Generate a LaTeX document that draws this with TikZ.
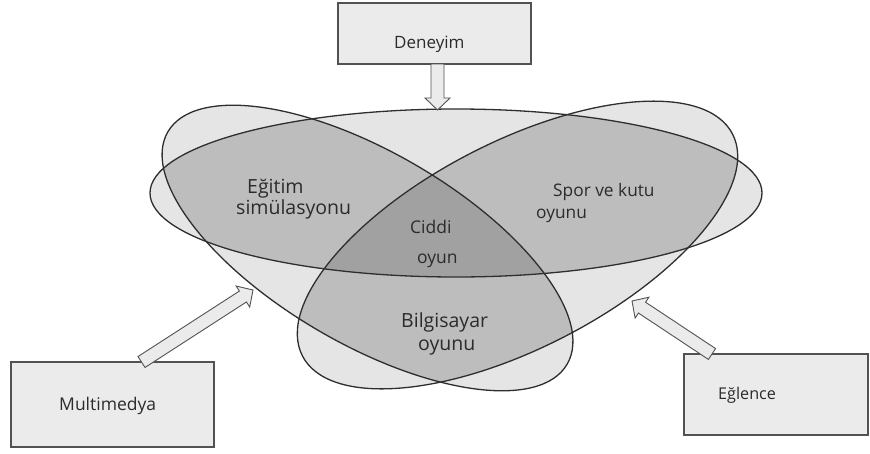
\documentclass[tikz,border=0pt]{standalone}
\usepackage{fontspec}
\setmainfont{Open Sans}
\usetikzlibrary{calc}

\definecolor{oneC}{gray}{0.90}
\definecolor{twoC}{gray}{0.74}
\definecolor{threeC}{gray}{0.63}
\definecolor{boxC}{gray}{0.92}
\definecolor{edgeC}{gray}{0.18}
\definecolor{frameC}{gray}{0.32}
\definecolor{inkC}{gray}{0.17}

% the three overlapping ovals
\newcommand\ovalH{(456,193) ellipse [x radius=306, y radius=84]}
\newcommand\ovalA{[rotate around={-30.2:(367.5,248)}] (367.5,248) ellipse [x radius=231, y radius=96]}
\newcommand\ovalB{[rotate around={27.3:(517.5,245)}] (517.5,245) ellipse [x radius=242, y radius=103]}

% hollow block arrow from #1 to #2
\newcommand\blockarrow[2]{%
  \coordinate (neck) at ($(#2)!12pt!(#1)$);
  \filldraw[arrowbody]
    ($(#1)!6.5pt!90:(#2)$) -- ($(neck)!6.5pt!-90:(#1)$) -- ($(neck)!12.5pt!-90:(#1)$)
    -- (#2) -- ($(neck)!12.5pt!90:(#1)$) -- ($(neck)!6.5pt!90:(#1)$)
    -- ($(#1)!6.5pt!-90:(#2)$) -- cycle;}

\tikzset{
  sourcebox/.style={draw=frameC, fill=boxC, line width=1.2pt, inner sep=0pt, outer sep=0pt},
  arrowbody/.style={draw=frameC, fill=boxC, line width=0.9pt, line join=miter},
  oval/.style={draw=edgeC, line width=1.3pt},
  lbl/.style={text=inkC, inner sep=0pt, anchor=base west},
}

\begin{document}
\begin{tikzpicture}[x=1pt, y=-1pt]
\useasboundingbox (0,0) rectangle (870,453);

% shading: one, two and three overlapping ovals
\fill[oneC] \ovalH;
\fill[oneC] \ovalA;
\fill[oneC] \ovalB;
\begin{scope}
  \clip \ovalA;
  \fill[twoC] \ovalH;
  \fill[twoC] \ovalB;
\end{scope}
\begin{scope}
  \clip \ovalB;
  \fill[twoC] \ovalH;
\end{scope}
\begin{scope}
  \clip \ovalA;
  \clip \ovalB;
  \fill[threeC] \ovalH;
\end{scope}
\draw[oval] \ovalH;
\draw[oval] \ovalA;
\draw[oval] \ovalB;

% source boxes
\node[sourcebox, minimum width=193pt, minimum height=61pt] (deneyim) at (434.5,33.5) {};
\node[sourcebox, minimum width=203pt, minimum height=85pt] (mmbox) at (112.5,404.5) {};
\node[sourcebox, minimum width=184pt, minimum height=81pt] (ebox) at (776,394.5) {};

% arrows into the ovals
\coordinate (dtip) at (437.5,110);
\coordinate (mtip) at (253,290);
\coordinate (etip) at (632,301);
\coordinate (dbase) at ($(deneyim.south)+(3,0)$);
\coordinate (mbase) at ($(mmbox.north)+(29,0)$);
\coordinate (ebase) at ($(ebox.north)+(-64,0)$);
\blockarrow{dbase}{dtip}
\blockarrow{mbase}{mtip}
\blockarrow{ebase}{etip}

% labels
\node[lbl, font=\fontsize{17}{17}\selectfont] (tDeneyim) at (394,48) {Deneyim};
\node[lbl, font=\fontsize{17.5}{17.5}\selectfont] (tMulti) at (59,410) {Multimedya};
\node[lbl, font=\fontsize{16.2}{16.2}\selectfont] (tEglence) at (718,399) {Eğlence};

\node[lbl, font=\fontsize{19.5}{19.5}\selectfont, text depth=0pt] (tEgitim) at (247,193) {Eğitim};
\node[lbl, font=\fontsize{19.5}{19.5}\selectfont, text height=14pt] (tSimul) at (236,214) {simülasyonu};
\node[lbl, font=\fontsize{17.5}{17.5}\selectfont] (tCiddi) at (410,233) {Ciddi};
\node[lbl, font=\fontsize{17.5}{17.5}\selectfont] (tOyun) at (417,263) {oyun};
\node[lbl, font=\fontsize{17.3}{17.3}\selectfont] (tSpor) at (553,196) {Spor ve kutu};
\node[lbl, font=\fontsize{17.3}{17.3}\selectfont] (tSporOyunu) at (536,218) {oyunu};
\node[lbl, font=\fontsize{19.5}{19.5}\selectfont] (tBilgi) at (401,327) {Bilgisayar};
\node[lbl, font=\fontsize{19.5}{19.5}\selectfont] (tBilgiOyunu) at (418,350) {oyunu};
\end{tikzpicture}
\end{document}
